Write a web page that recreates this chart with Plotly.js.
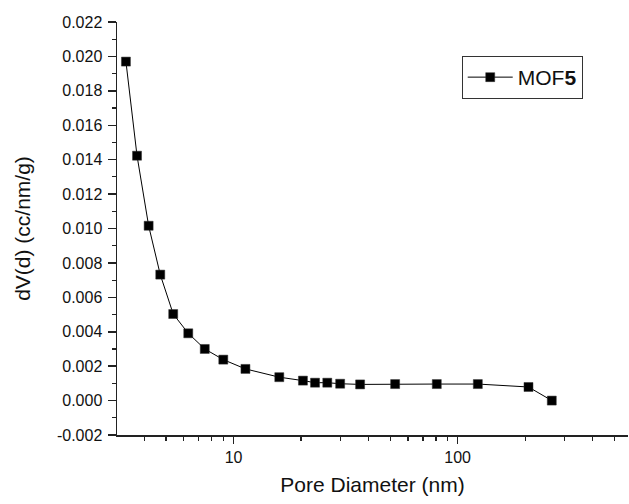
<!DOCTYPE html>
<html>
<head>
<meta charset="utf-8">
<script src="https://cdn.plot.ly/plotly-3.0.1.min.js"></script>
<style>
  html, body { margin: 0; padding: 0; background: #fff; }
  #chart { width: 629px; height: 504px; }
</style>
</head>
<body>
<div id="chart"></div>
<script>
// Pore diameter (nm) and dV(d) (cc/nm/g)
const poreDiameter = [3.31, 3.71, 4.18, 4.71, 5.38, 6.28, 7.44, 9.0, 11.3, 16.0, 20.4, 23.1, 26.2, 29.9, 36.7, 52.6, 80.7, 123, 207, 263];
const dVd = [0.0197, 0.01423, 0.01016, 0.00732, 0.00503, 0.00391, 0.0030, 0.00238, 0.00184, 0.00136, 0.00116, 0.00104, 0.00104, 0.00098, 0.00094, 0.00096, 0.00096, 0.00096, 0.00079, 0.0000];
const yTickVals = [-0.002, 0.000, 0.002, 0.004, 0.006, 0.008, 0.010, 0.012, 0.014, 0.016, 0.018, 0.020, 0.022];
const yTickText = ['-0.002', '0.000', '0.002', '0.004', '0.006', '0.008', '0.010', '0.012', '0.014', '0.016', '0.018', '0.020', '0.022'];
const seriesName = 'MOF<b>5</b>';
const xTitle = 'Pore Diameter (nm)';
const yTitle = 'dV(d) (cc/nm/g)';

const FONT = 'Arial, "Liberation Sans", sans-serif';

const trace = {
  x: poreDiameter,
  y: dVd,
  type: 'scatter',
  mode: 'lines+markers',
  name: seriesName,
  line: { color: '#000', width: 1 },
  marker: { symbol: 'square', size: 9, color: '#000', line: { width: 0.5, color: '#333' } },
  showlegend: true
};

const layout = {
  width: 629,
  height: 504,
  margin: { l: 117, r: 1, t: 22, b: 69 },
  paper_bgcolor: '#fff',
  plot_bgcolor: '#fff',
  font: { family: FONT, color: '#111', size: 16 },
  showlegend: true,
  legend: {
    x: 0.6746, y: 0.9177, xanchor: 'left', yanchor: 'top',
    bgcolor: '#fff', bordercolor: '#333', borderwidth: 1,
    font: { family: FONT, size: 21, color: '#111' },
    itemwidth: 45
  },
  xaxis: {
    type: 'log',
    range: [0.48, 2.76],
    dtick: 1,
    showline: true, linecolor: '#222', linewidth: 1.5,
    mirror: false,
    ticks: 'outside', ticklen: 7, tickwidth: 1.5, tickcolor: '#222',
    showgrid: false, zeroline: false,
    tickfont: { family: FONT, size: 16, color: '#111' },
    minor: { ticks: 'outside', ticklen: 4, tickwidth: 1.2, tickcolor: '#222', showgrid: false },
    title: { text: xTitle, font: { family: FONT, size: 21, color: '#111' }, standoff: 12 }
  },
  yaxis: {
    range: [-0.002, 0.022],
    tickvals: yTickVals, ticktext: yTickText,
    ticklabelstandoff: 2,
    showline: true, linecolor: '#222', linewidth: 1.5,
    mirror: false,
    ticks: 'outside', ticklen: 8, tickwidth: 1.5, tickcolor: '#222',
    showgrid: false, zeroline: false,
    tickfont: { family: FONT, size: 16, color: '#111' },
    minor: { dtick: 0.001, tick0: -0.002, ticks: 'outside', ticklen: 4, tickwidth: 1.2, tickcolor: '#222', showgrid: false },
    title: { text: yTitle, font: { family: FONT, size: 21, color: '#111' }, standoff: 20 }
  }
};

Plotly.newPlot('chart', [trace], layout, { displayModeBar: false, staticPlot: true });
</script>
</body>
</html>
